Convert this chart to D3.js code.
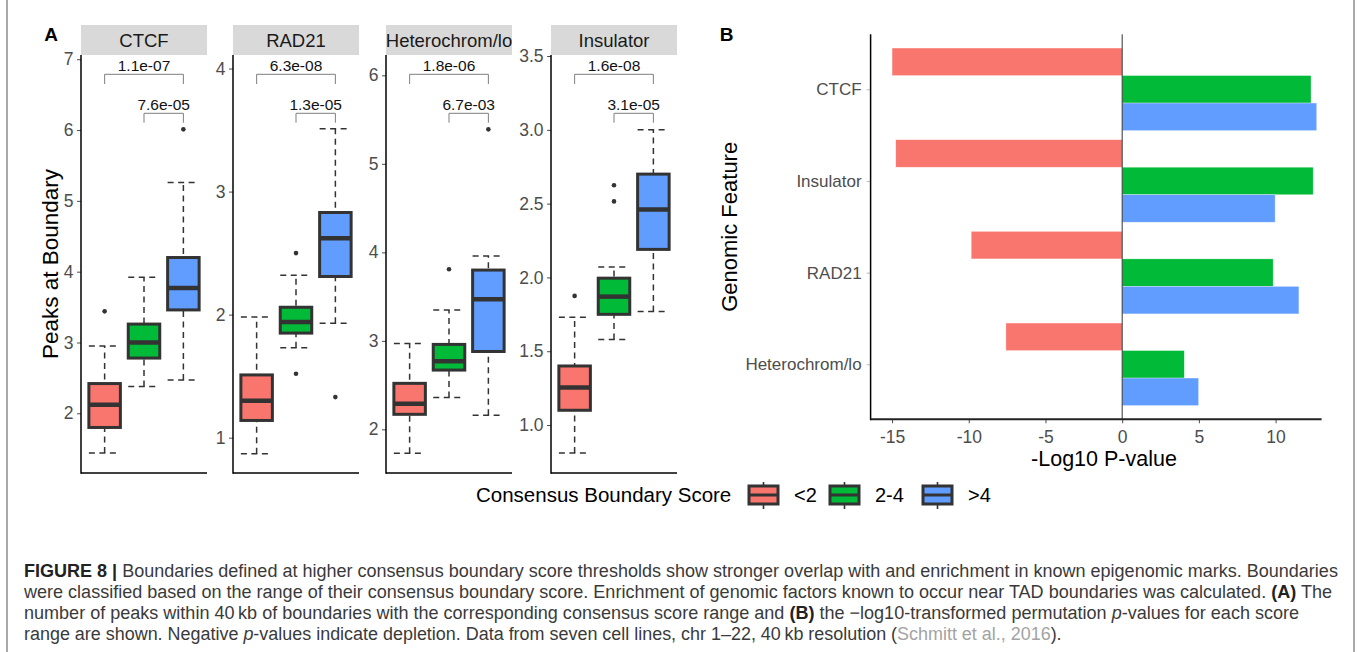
<!DOCTYPE html>
<html>
<head>
<meta charset="utf-8">
<script src="https://cdn.jsdelivr.net/npm/d3@7"></script>
<style>
  body { margin: 0; background: #fff; }
  svg { display: block; font-family: "Liberation Sans", Arial, Helvetica, sans-serif; }
</style>
</head>
<body>
<div id="chart"></div>
<script>
// ---- data, panel A (box stats: lower whisker, q1, median, q3, upper whisker) ----
const panels = ['CTCF', 'RAD21', 'Heterochrom/lo', 'Insulator'];
const groups = ['<2', '2-4', '>4'];
const colors = ['#F8766D', '#00BA38', '#619CFF'];

const ctcfBoxes = [[1.44, 1.80, 2.12, 2.42, 2.95], [2.38, 2.78, 3.00, 3.26, 3.92], [2.47, 3.46, 3.77, 4.20, 5.26]];
const ctcfOutliers = [[3.44], [], [6.01]];
const rad21Boxes = [[0.87, 1.14, 1.30, 1.51, 1.98], [1.73, 1.85, 1.94, 2.06, 2.32], [1.93, 2.31, 2.62, 2.83, 3.51]];
const rad21Outliers = [[], [2.50, 1.52], [1.33]];
const heteroBoxes = [[1.73, 2.17, 2.29, 2.52, 2.97], [2.36, 2.67, 2.77, 2.96, 3.35], [2.16, 2.88, 3.47, 3.80, 3.96]];
const heteroOutliers = [[], [3.81], [5.39]];
const insulatorBoxes = [[0.81, 1.10, 1.255, 1.40, 1.73], [1.58, 1.75, 1.87, 1.995, 2.07], [1.77, 2.19, 2.46, 2.70, 3.00]];
const insulatorOutliers = [[1.875], [2.625, 2.515], []];

const ctcfDomain = [1.157, 7.06], ctcfTicks = [2, 3, 4, 5, 6, 7];
const rad21Domain = [0.713, 4.11], rad21Ticks = [1, 2, 3, 4];
const heteroDomain = [1.507, 6.23], heteroTicks = [2, 3, 4, 5, 6];
const insulatorDomain = [0.675, 3.507], insulatorTicks = [1.0, 1.5, 2.0, 2.5, 3.0, 3.5];

const ctcfP = ['1.1e-07', '7.6e-05'];
const rad21P = ['6.3e-08', '1.3e-05'];
const heteroP = ['1.8e-06', '6.7e-03'];
const insulatorP = ['1.6e-08', '3.1e-05'];

// ---- data, panel B (-log10 p) ----
const features = ['CTCF', 'Insulator', 'RAD21', 'Heterochrom/lo'];
const lowScore = [-15.0, -14.76, -9.84, -7.58];
const midScore = [12.31, 12.45, 9.84, 4.05];
const highScore = [12.68, 9.97, 11.52, 4.98];
const xTicksB = [-15, -10, -5, 0, 5, 10];

const W = 1357, H = 652;
const svg = d3.select('#chart').append('svg').attr('width', W).attr('height', H);
svg.append('rect').attr('width', W).attr('height', H).attr('fill', '#fff');

// page frame lines
[7, 1354].forEach(x => {
  svg.append('line').attr('x1', x).attr('x2', x).attr('y1', 0).attr('y2', H)
    .attr('stroke', '#8c8c8c').attr('stroke-width', 1.5);
});

// ================= panel A =================
const facets = [
  { boxes: ctcfBoxes, out: ctcfOutliers, domain: ctcfDomain, ticks: ctcfTicks, p: ctcfP, fmt: d3.format('d') },
  { boxes: rad21Boxes, out: rad21Outliers, domain: rad21Domain, ticks: rad21Ticks, p: rad21P, fmt: d3.format('d') },
  { boxes: heteroBoxes, out: heteroOutliers, domain: heteroDomain, ticks: heteroTicks, p: heteroP, fmt: d3.format('d') },
  { boxes: insulatorBoxes, out: insulatorOutliers, domain: insulatorDomain, ticks: insulatorTicks, p: insulatorP, fmt: d3.format('.1f') }
];
const pTop = 55, pBottom = 473, pW = 126, stripTop = 25;
const pLefts = [81, 233, 386, 551];
const ink = '#333333';

svg.append('text').attr('x', 51).attr('y', 41).attr('text-anchor', 'middle')
  .attr('font-size', 19).attr('font-weight', 'bold').text('A');

svg.append('text')
  .attr('transform', `translate(58,${(pTop + pBottom) / 2}) rotate(-90)`)
  .attr('text-anchor', 'middle').attr('font-size', 22.5).attr('fill', '#000')
  .text('Peaks at Boundary');

facets.forEach((f, i) => {
  const g = svg.append('g').attr('transform', `translate(${pLefts[i]},0)`);
  const x = d3.scalePoint().domain(groups).range([0, pW]).padding(0.6);
  const y = d3.scaleLinear().domain(f.domain).range([pBottom, pTop]);
  const bw = x.step() * 0.8;

  // strip
  g.append('clipPath').attr('id', 'strip' + i).append('rect')
    .attr('x', 0).attr('y', stripTop).attr('width', pW).attr('height', pTop - stripTop);
  g.append('rect').attr('x', 0).attr('y', stripTop).attr('width', pW)
    .attr('height', pTop - stripTop).attr('fill', '#d9d9d9');
  g.append('text').attr('clip-path', `url(#strip${i})`)
    .attr('x', pW / 2).attr('y', 46.8).attr('text-anchor', 'middle')
    .attr('font-size', 18.5).attr('fill', '#1a1a1a').text(panels[i]);

  // axes
  const ax = g.append('g').call(d3.axisLeft(y).tickValues(f.ticks).tickFormat(f.fmt)
    .tickSize(4).tickSizeOuter(0).tickPadding(3.5));
  ax.select('.domain').remove();
  ax.selectAll('.tick line').attr('stroke', '#4d4d4d');
  ax.selectAll('.tick text').attr('fill', '#4d4d4d').attr('font-size', 17.5)
    .attr('font-family', '"Liberation Sans", Arial, sans-serif');
  g.append('line').attr('x1', 0).attr('x2', 0).attr('y1', pTop).attr('y2', pBottom + 0.75)
    .attr('stroke', '#000').attr('stroke-width', 1.5);
  g.append('line').attr('x1', 0).attr('x2', pW).attr('y1', pBottom).attr('y2', pBottom)
    .attr('stroke', '#000').attr('stroke-width', 1.5);

  // boxes
  f.boxes.forEach((b, j) => {
    const cx = x(groups[j]);
    const dash = { stroke: ink, 'stroke-width': 1.5, 'stroke-dasharray': '6,4.5' };
    const seg = (x1, y1, x2, y2, st) => {
      const l = g.append('line').attr('x1', x1).attr('y1', y1).attr('x2', x2).attr('y2', y2);
      Object.entries(st).forEach(([k, v]) => l.attr(k, v));
    };
    seg(cx, y(b[0]), cx, y(b[4]), dash);
    seg(cx - bw / 2, y(b[0]), cx + bw / 2, y(b[0]), dash);
    seg(cx - bw / 2, y(b[4]), cx + bw / 2, y(b[4]), dash);
    g.append('rect').attr('x', cx - bw / 2).attr('width', bw)
      .attr('y', y(b[3])).attr('height', y(b[1]) - y(b[3]))
      .attr('fill', colors[j]).attr('stroke', ink).attr('stroke-width', 3);
    seg(cx - bw / 2, y(b[2]), cx + bw / 2, y(b[2]), { stroke: ink, 'stroke-width': 4.5 });
    f.out[j].forEach(v => {
      g.append('circle').attr('cx', cx).attr('cy', y(v)).attr('r', 2.3).attr('fill', ink);
    });
  });

  // significance brackets
  const brackets = [
    { from: groups[0], to: groups[2], top: pTop + 19.3, leg: 9.7, text: pTop + 16.2 },
    { from: groups[1], to: groups[2], top: pTop + 58.3, leg: 9.4, text: pTop + 54.7 }
  ];
  brackets.forEach((br, k) => {
    const x1 = x(br.from), x2 = x(br.to);
    g.append('path')
      .attr('d', `M${x1},${br.top + br.leg}V${br.top}H${x2}V${br.top + br.leg}`)
      .attr('fill', 'none').attr('stroke', '#7f7f7f').attr('stroke-width', 1);
    g.append('text').attr('x', (x1 + x2) / 2).attr('y', br.text)
      .attr('text-anchor', 'middle').attr('font-size', 15.5).attr('fill', '#111').text(f.p[k]);
  });
});

// legend
const legY = 495;
svg.append('text').attr('x', 476).attr('y', legY + 7.3).attr('font-size', 20.5)
  .attr('fill', '#000').text('Consensus Boundary Score');
const keyX = [749, 830, 923];
groups.forEach((gname, j) => {
  const kx = keyX[j], kw = 29;
  svg.append('line').attr('x1', kx + kw / 2).attr('x2', kx + kw / 2)
    .attr('y1', legY - 13).attr('y2', legY + 14).attr('stroke', ink).attr('stroke-width', 1.6);
  svg.append('rect').attr('x', kx).attr('y', legY - 9).attr('width', kw).attr('height', 18)
    .attr('fill', colors[j]).attr('stroke', ink).attr('stroke-width', 3);
  svg.append('line').attr('x1', kx).attr('x2', kx + kw).attr('y1', legY).attr('y2', legY)
    .attr('stroke', ink).attr('stroke-width', 3);
  svg.append('text').attr('x', kx + kw + 16).attr('y', legY + 7).attr('font-size', 20)
    .attr('fill', '#000').text(gname);
});

// ================= panel B =================
const bLeft = 870.6, bRight = 1321.6, bTop = 34.3, bBottom = 419.3;
const xB = d3.scaleLinear().domain([-16.4, 13.0]).range([bLeft, bRight]);
const yB = d3.scalePoint().domain(features).range([bTop, bBottom]).padding(0.6);
const dodge = d3.scaleBand().domain(groups).range([-yB.step() * 0.45, yB.step() * 0.45]);
const seriesB = [lowScore, midScore, highScore];

svg.append('text').attr('x', 726.5).attr('y', 41).attr('text-anchor', 'middle')
  .attr('font-size', 19).attr('font-weight', 'bold').text('B');

seriesB.forEach((vals, j) => {
  svg.append('g').selectAll('rect').data(features).join('rect')
    .attr('x', (d, i) => xB(Math.min(0, vals[i])))
    .attr('width', (d, i) => Math.abs(xB(vals[i]) - xB(0)))
    .attr('y', d => yB(d) + dodge(groups[j]))
    .attr('height', dodge.bandwidth())
    .attr('fill', colors[j])
    .attr('stroke', '#ffffff').attr('stroke-opacity', 0.5).attr('stroke-width', 0.6);
});

svg.append('line').attr('x1', xB(0)).attr('x2', xB(0)).attr('y1', bTop).attr('y2', bBottom)
  .attr('stroke', '#333').attr('stroke-width', 1);

const axB = svg.append('g').attr('transform', `translate(0,${bBottom})`)
  .call(d3.axisBottom(xB).tickValues(xTicksB).tickFormat(d => String(d))
    .tickSize(4).tickSizeOuter(0).tickPadding(7));
axB.select('.domain').remove();
axB.selectAll('.tick line').attr('stroke', '#4d4d4d');
axB.selectAll('.tick text').attr('fill', '#4d4d4d').attr('font-size', 17.5)
  .attr('font-family', '"Liberation Sans", Arial, sans-serif');

const ayB = svg.append('g').attr('transform', `translate(${bLeft},0)`)
  .call(d3.axisLeft(yB).tickSize(4).tickSizeOuter(0).tickPadding(5));
ayB.select('.domain').remove();
ayB.selectAll('.tick line').attr('stroke', '#bdbdbd');
ayB.selectAll('.tick text').attr('fill', '#4d4d4d').attr('font-size', 17)
  .attr('font-family', '"Liberation Sans", Arial, sans-serif');

svg.append('line').attr('x1', bLeft).attr('x2', bLeft).attr('y1', bTop).attr('y2', bBottom + 1)
  .attr('stroke', '#000').attr('stroke-width', 1.5);
svg.append('line').attr('x1', bLeft).attr('x2', bRight).attr('y1', bBottom).attr('y2', bBottom)
  .attr('stroke', '#222').attr('stroke-width', 2);

svg.append('text').attr('x', 1104).attr('y', 466).attr('text-anchor', 'middle')
  .attr('font-size', 21.5).attr('fill', '#000').text('-Log10 P-value');
svg.append('text')
  .attr('transform', `translate(736.5,${(bTop + bBottom) / 2}) rotate(-90)`)
  .attr('text-anchor', 'middle').attr('font-size', 22).attr('fill', '#000')
  .text('Genomic Feature');

// ================= caption =================
const captionLines = [
  { end: 1339, segs: [{ t: 'FIGURE 8 |', b: 1 }, { t: ' Boundaries defined at higher consensus boundary score thresholds show stronger overlap with and enrichment in known epigenomic marks. Boundaries' }] },
  { end: 1333, segs: [{ t: 'were classified based on the range of their consensus boundary score. Enrichment of genomic factors known to occur near TAD boundaries was calculated. ' }, { t: '(A)', b: 1 }, { t: ' The' }] },
  { end: 1300, segs: [{ t: 'number of peaks within 40\u2009kb of boundaries with the corresponding consensus score range and ' }, { t: '(B)', b: 1 }, { t: ' the \u2212log10-transformed permutation ' }, { t: 'p', i: 1 }, { t: '-values for each score' }] },
  { end: 1062, segs: [{ t: 'range are shown. Negative ' }, { t: 'p', i: 1 }, { t: '-values indicate depletion. Data from seven cell lines, chr 1\u201322, 40\u2009kb resolution (' }, { t: 'Schmitt et al., 2016', c: '#a3a3a3' }, { t: ').' }] }
];
const capX = 24, capBase = [577, 598, 618.5, 639.5];
captionLines.forEach((ln, k) => {
  const base = 17;
  const t = svg.append('text').attr('x', capX).attr('y', capBase[k])
    .attr('font-size', base).attr('fill', '#3a3a3a').style('white-space', 'pre');
  ln.segs.forEach(s => {
    const ts = t.append('tspan').text(s.t);
    if (s.b) ts.attr('font-weight', 'bold').attr('fill', '#222');
    if (s.i) ts.attr('font-style', 'italic');
    if (s.c) ts.attr('fill', s.c);
  });
  // fit the line to the measured width of the reference by scaling its size
  const target = ln.end - capX;
  const len = t.node().getComputedTextLength();
  if (len > 0) t.attr('font-size', base * target / len);
});
</script>
</body>
</html>
